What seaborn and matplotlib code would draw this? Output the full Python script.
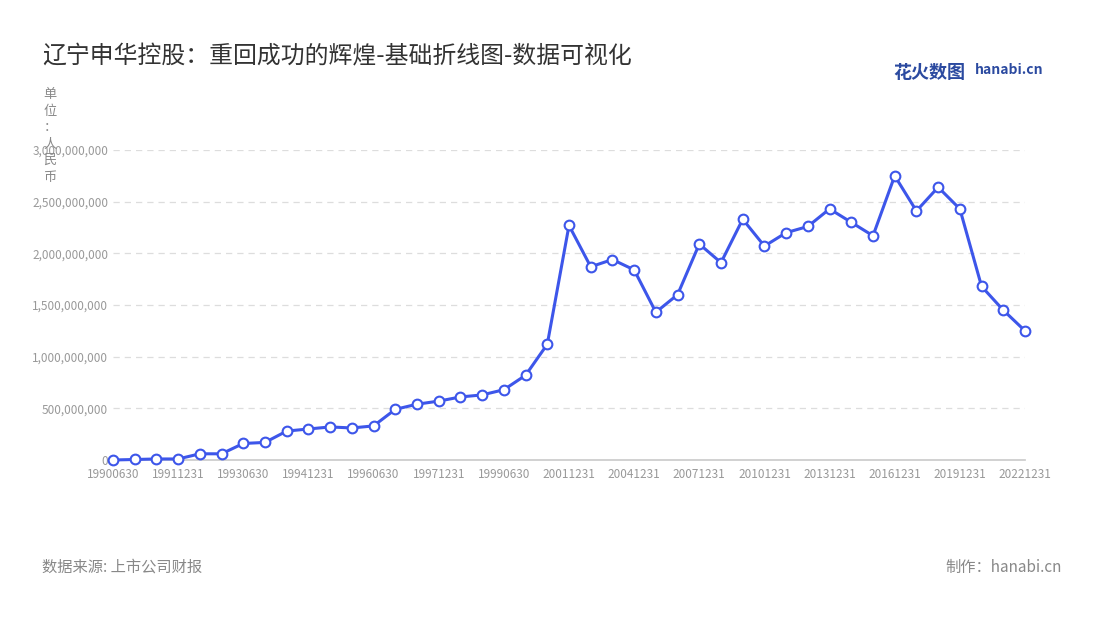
import numpy as np
import pandas as pd
import matplotlib.pyplot as plt
import seaborn as sns

# ---- data ----
dates = ["19900630", "19901231", "19910630", "19911231", "19920630", "19921231",
         "19930630", "19931231", "19940630", "19941231", "19950630", "19951231",
         "19960630", "19961231", "19970630", "19971231", "19980630", "19981231",
         "19990630", "19991231", "20001231", "20011231", "20021231", "20031231",
         "20041231", "20051231", "20061231", "20071231", "20081231", "20091231",
         "20101231", "20111231", "20121231", "20131231", "20141231", "20151231",
         "20161231", "20171231", "20181231", "20191231", "20201231", "20211231",
         "20221231"]
values = [0.0, 0.005, 0.01, 0.01, 0.06, 0.06, 0.16, 0.17, 0.28, 0.30, 0.32, 0.31,
          0.33, 0.49, 0.54, 0.57, 0.61, 0.63, 0.68, 0.82, 1.12, 2.27, 1.87, 1.94,
          1.84, 1.43, 1.60, 2.09, 1.91, 2.33, 2.07, 2.20, 2.26, 2.43, 2.30, 2.17,
          2.75, 2.41, 2.64, 2.43, 1.68, 1.45, 1.25]
values = [v * 1e9 for v in values]

df = pd.DataFrame({"idx": np.arange(len(dates)), "date": dates, "value": values})

sns.set_theme(style="white")
plt.rcParams['font.family'] = ['Noto Sans CJK SC', 'DejaVu Sans']

fig = plt.figure(figsize=(11, 6.2), dpi=100)
ax = fig.add_axes([113 / 1100, 1 - 460 / 620, (1025 - 113) / 1100, 310 / 620])

line_color = "#3d56ea"
sns.lineplot(data=df, x="idx", y="value", ax=ax, color=line_color, linewidth=2.2,
             marker="o", markersize=7, markerfacecolor="white",
             markeredgecolor=line_color, markeredgewidth=1.5, clip_on=False, zorder=3)

ax.set_xlim(0, len(dates) - 1)
ax.set_ylim(0, 3e9)
ax.set_yticks(np.arange(0, 3.01e9, 5e8))
ax.set_yticklabels([f"{int(v):,}" for v in np.arange(0, 3.01e9, 5e8)])
ticks = list(range(0, len(dates), 3))
ax.set_xticks(ticks)
ax.set_xticklabels([dates[i] for i in ticks])
ax.tick_params(axis="both", labelsize=8.5, colors="#999999", length=0)
ax.tick_params(axis="x", length=4, color="#cccccc", pad=2)
ax.grid(axis="y", linestyle=(0, (5, 4)), color="#dddddd", linewidth=0.9)
for s in ["top", "right", "left"]:
    ax.spines[s].set_visible(False)
ax.spines["bottom"].set_color("#cccccc")
ax.set_xlabel("")
ax.set_ylabel("")

fig.text(42 / 1100, 1 - 57 / 620, "辽宁申华控股：重回成功的辉煌-基础折线图-数据可视化",
         fontsize=17.2, color="#333333", va="center")
fig.text(50 / 1100, 1 - 88 / 620, "单\n位\n：\n人\n民\n币", fontsize=9.5,
         color="#888888", va="top", ha="center", linespacing=1.35)
fig.text(42 / 1100, 1 - 567 / 620, "数据来源: 上市公司财报", fontsize=11, color="#888888", va="center")
fig.text(1062 / 1100, 1 - 567 / 620, "制作：hanabi.cn", fontsize=11, color="#888888",
         va="center", ha="right")
fig.text(893 / 1100, 1 - 72 / 620, "花火数图", fontsize=13, color="#2b4aa0",
         va="center", fontweight="bold")
fig.text(975 / 1100, 1 - 70 / 620, "hanabi.cn", fontsize=10, color="#2b4aa0",
         va="center", fontweight="bold")

fig.savefig("out.png", dpi=100)
